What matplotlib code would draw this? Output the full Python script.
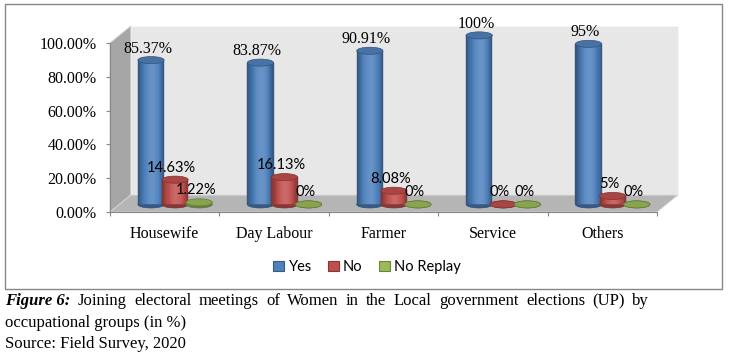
import numpy as np
import matplotlib
matplotlib.use("Agg")
import matplotlib.pyplot as plt
from matplotlib.patches import Polygon, Ellipse, Rectangle, Patch
from matplotlib.colors import to_rgb

categories = ["Housewife", "Day Labour", "Farmer", "Service", "Others"]
yes = [85.37, 83.87, 90.91, 100, 95]
no = [14.63, 16.13, 8.08, 0, 5]
no_replay = [1.22, 0, 0, 0, 0]
yes_labels = ["85.37%", "83.87%", "90.91%", "100%", "95%"]
no_labels = ["14.63%", "16.13%", "8.08%", "0%", "5%"]
nr_labels = ["1.22%", "0%", "0%", "0%", "0%"]
series_names = ["Yes", "No", "No Replay"]
colors = ["#4f81bd", "#c0504d", "#9bbb59"]
yticks = [0, 20, 40, 60, 80, 100]

serif = "Liberation Serif"
sans = "Lato"

W, H = 729, 357
fig = plt.figure(figsize=(W / 100, H / 100), dpi=100)
ax = fig.add_axes([110 / W, 145 / H, 547 / W, 169 / H])
ax.set_xlim(0, 5)
ax.set_ylim(0, 100)
ax.patch.set_visible(False)

dx, dy = 0.19, 10.0   # depth of the 3d box
z0 = 4.5               # cylinders stand in the middle of the floor
bw = 0.24              # cylinder width
eh = 4.2               # ellipse height in %
offs = [-0.22, 0.0, 0.22]

# walls and floor
ax.add_patch(Polygon([(dx, dy), (5 + dx, dy), (5 + dx, 100 + dy), (dx, 100 + dy)],
                     closed=True, fc="#e7e7e7", ec="#f5f5f5", lw=0.8, clip_on=False, zorder=0))
ax.add_patch(Polygon([(0, 0), (dx, dy), (dx, 100 + dy), (0, 100)],
                     closed=True, fc="#a6a6a6", ec="#d0d0d0", lw=0.6, clip_on=False, zorder=0.5))
ax.add_patch(Polygon([(0, 0), (5, 0), (5 + dx, dy), (dx, dy)],
                     closed=True, fc="#b5b5b5", ec="#d8d8d8", lw=0.6, clip_on=False, zorder=0.6))


def shade(rgb, f):
    rgb = np.array(rgb)
    if f < 1:
        return tuple(rgb * f)
    return tuple(rgb + (1 - rgb) * (f - 1))


def cylinder(x, v, col, z):
    base = to_rgb(col)
    ax.add_patch(Ellipse((x, z0), bw, eh, fc=shade(base, 0.7), ec=shade(base, 0.6),
                         lw=0.5, zorder=z, clip_on=False))
    if v > 0:
        n = 24
        sw = bw / n
        for i in range(n):
            t = (i + 0.5) / n
            f = 0.62 + 0.52 * np.sin(np.pi * t ** 1.15) ** 0.8
            c = shade(base, f)
            ax.bar(x - bw / 2 + (i + 0.5) * sw, v, width=sw, bottom=z0, color=c,
                   ec=c, lw=0.3, zorder=z + 0.1, clip_on=False)
    ax.add_patch(Ellipse((x, z0 + v), bw, eh, fc=shade(base, 0.88), ec=shade(base, 0.65),
                         lw=0.5, zorder=z + 0.2, clip_on=False))


xs = np.arange(len(categories)) + 0.5 + dx / 2
for j, vals in enumerate([yes, no, no_replay]):
    for i, v in enumerate(vals):
        cylinder(xs[i] + offs[j], v, colors[j], 2 + i + j * 0.3)

for i in range(len(categories)):
    ax.text(xs[i] + offs[0] - 0.03, yes[i] + z0 + 4.5, yes_labels[i], family=serif,
            fontsize=11.5, ha="center", va="baseline", zorder=20)
    ax.text(xs[i] + offs[1] - 0.03, no[i] + z0 + 4.8, no_labels[i], family=sans,
            fontsize=10.5, ha="center", va="baseline", zorder=20)
    ax.text(xs[i] + offs[2] - 0.03, no_replay[i] + z0 + 4.8, nr_labels[i], family=sans,
            fontsize=10.5, ha="center", va="baseline", zorder=20)

# axes
for s in ["top", "right"]:
    ax.spines[s].set_visible(False)
for s in ["left", "bottom"]:
    ax.spines[s].set_color("#868686")
    ax.spines[s].set_linewidth(0.8)
ax.set_yticks(yticks)
ax.set_yticklabels(["%.2f%%" % t for t in yticks], family=serif, fontsize=11.5)
ax.set_xticks(np.arange(6))
ax.set_xticklabels([])
ax.set_xticks(np.arange(len(categories)) + 0.5, minor=True)
ax.set_xticklabels(categories, minor=True, family=serif, fontsize=11.5)
ax.tick_params(axis="y", length=3, color="#868686", pad=6.5)
ax.tick_params(axis="x", which="major", length=3, color="#868686")
ax.tick_params(axis="x", which="minor", length=0, pad=10)

handles = [Patch(fc=c, ec=shade(to_rgb(c), 0.7), lw=0.8) for c in colors]
fig.legend(handles, series_names, loc="center", bbox_to_anchor=(367 / W, 1 - 267 / H),
           ncol=3, frameon=False, prop={"family": sans, "size": 10.5},
           handlelength=0.75, handleheight=0.75, handletextpad=0.3, columnspacing=1.1)

# chart frame
fig.add_artist(Rectangle((5 / W, 1 - 289 / H), 717 / W, 285 / H, transform=fig.transFigure,
                         fill=False, ec="#868686", lw=1))

# caption, first line justified to the right edge like in the paper
line1 = "Joining electoral meetings of Women in the Local government elections (UP) by".split()
renderer = fig.canvas.get_renderer()
tokens = [fig.text(0, 1 - 305 / H, "Figure 6:", family=serif, fontsize=12, weight="bold",
                   style="italic", va="baseline")]
for w in line1:
    tokens.append(fig.text(0, 1 - 305 / H, w, family=serif, fontsize=12, va="baseline"))
widths = [t.get_window_extent(renderer).width for t in tokens]
left, right = 5, 649
gap = (right - left - sum(widths)) / (len(tokens) - 1)
xpos = left
for t, w in zip(tokens, widths):
    t.set_x(xpos / W)
    xpos += w + gap
fig.text(5 / W, 1 - 327 / H, "occupational groups (in %)", family=serif, fontsize=12, va="baseline")
fig.text(5 / W, 1 - 348 / H, "Source: Field Survey, 2020", family=serif, fontsize=12, va="baseline")

fig.savefig("out.png", dpi=100)
